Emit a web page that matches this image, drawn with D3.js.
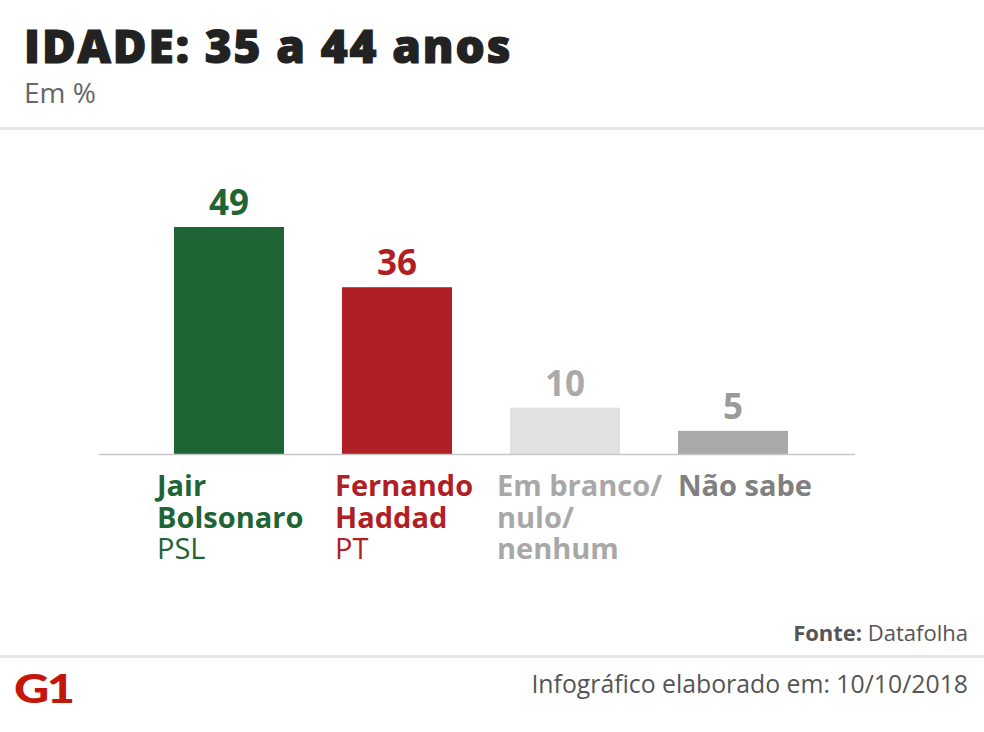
<!DOCTYPE html>
<html>
<head>
<meta charset="utf-8">
<script src="https://cdn.jsdelivr.net/npm/d3@7"></script>
<style>
  html, body { margin: 0; padding: 0; background: #fff; }
  svg { display: block; }
</style>
</head>
<body>
<script>
// ---- Data ----
const categories = ["Jair Bolsonaro", "Fernando Haddad", "Em branco/ nulo/ nenhum", "Não sabe"];
const values = [49, 36, 10, 5];
const labelLines = [["Jair", "Bolsonaro"], ["Fernando", "Haddad"], ["Em branco/", "nulo/", "nenhum"], ["Não sabe"]];
const parties = ["PSL", "PT", "", ""];
const barColors = ["#1f6435", "#b01f25", "#e1e1e1", "#a9a9a9"];
const valueColors = ["#1f6435", "#b01f25", "#aaaaaa", "#9a9a9a"];
const labelColors = ["#1f6435", "#b01f25", "#a8a8a8", "#808080"];
const labelOffsets = [17, 7, 13, 0];

const W = 984, H = 732;
const svg = d3.select("body").append("svg").attr("width", W).attr("height", H);

// Title
svg.append("text").attr("x", 24).attr("y", 63)
  .attr("font-family", "'Open Sans', sans-serif").attr("font-weight", 800)
  .attr("font-size", 46).attr("letter-spacing", 1.9)
  .attr("fill", "#222").attr("stroke", "#222").attr("stroke-width", 1.2)
  .text("IDADE: 35 a 44 anos");
svg.append("text").attr("x", 24).attr("y", 103)
  .attr("font-family", "'Open Sans', sans-serif").attr("font-size", 28)
  .attr("fill", "#666").text("Em %");

// separators
svg.append("rect").attr("x", 0).attr("y", 127).attr("width", W).attr("height", 3).attr("fill", "#e6e6e6");
svg.append("rect").attr("x", 0).attr("y", 655).attr("width", W).attr("height", 3).attr("fill", "#e6e6e6");

// scales
const x = d3.scaleBand().domain(categories).range([174, 788]).paddingInner(58 / 168).paddingOuter(0);
const y = d3.scaleLinear().domain([0, 50]).range([454, 454 - 227 * 50 / 49]);

// bars
svg.selectAll("rect.bar").data(categories).enter().append("rect")
  .attr("class", "bar")
  .attr("x", d => x(d)).attr("width", x.bandwidth())
  .attr("y", (d, i) => y(values[i])).attr("height", (d, i) => y(0) - y(values[i]))
  .attr("fill", (d, i) => barColors[i]);

// baseline
svg.append("line").attr("x1", 99).attr("x2", 855).attr("y1", y(0) + 0.5).attr("y2", y(0) + 0.5)
  .attr("stroke", "#c8c8c8").attr("stroke-width", 1.5);

// value labels
svg.selectAll("text.val").data(categories).enter().append("text")
  .attr("class", "val")
  .attr("x", d => x(d) + x.bandwidth() / 2)
  .attr("y", (d, i) => y(values[i]) - 12)
  .attr("text-anchor", "middle")
  .attr("font-family", "'Open Sans', sans-serif").attr("font-weight", 700)
  .attr("font-size", 35)
  .attr("fill", (d, i) => valueColors[i])
  .text((d, i) => values[i]);

// category labels
categories.forEach((c, i) => {
  const lx = x(c) - labelOffsets[i];
  const lines = labelLines[i].map(t => ({ t, w: 700 }));
  if (parties[i]) lines.push({ t: parties[i], w: 400 });
  lines.forEach((ln, j) => {
    svg.append("text").attr("x", lx).attr("y", 496 + j * 31.5)
      .attr("font-family", "'Open Sans', sans-serif").attr("font-size", 29)
      .attr("font-weight", ln.w).attr("fill", labelColors[i]).text(ln.t);
  });
});

// footer
const f = svg.append("text").attr("x", 968).attr("y", 641).attr("text-anchor", "end")
  .attr("font-family", "'Open Sans', sans-serif").attr("font-size", 22).attr("fill", "#555");
f.append("tspan").attr("font-weight", 700).text("Fonte: ");
f.append("tspan").attr("font-weight", 400).text("Datafolha");

svg.append("text").attr("x", 968).attr("y", 693).attr("text-anchor", "end")
  .attr("font-family", "'Open Sans', sans-serif").attr("font-size", 24.8).attr("fill", "#555")
  .text("Infográfico elaborado em: 10/10/2018");

// G1 logo
svg.append("text").attr("transform", "translate(14,703) scale(1.25,1)")
  .attr("font-family", "Lato, sans-serif").attr("font-weight", 900)
  .attr("font-size", 39).attr("letter-spacing", -2).attr("fill", "#c4170c").text("G1");
</script>
</body>
</html>
